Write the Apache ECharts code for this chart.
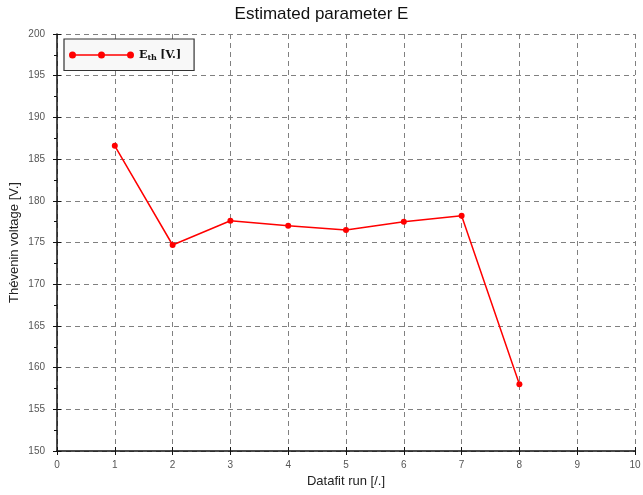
<!DOCTYPE html>
<html>
<head>
<meta charset="utf-8">
<script src="https://cdn.jsdelivr.net/npm/echarts@6/dist/echarts.min.js"></script>
<style>html,body{margin:0;padding:0;background:#fff}#c{width:643px;height:495px}</style>
</head>
<body>
<div id="c"></div>
<script>
var runs = [1, 2, 3, 4, 5, 6, 7, 8];
var voltage = [186.6, 174.7, 177.6, 177.0, 176.5, 177.5, 178.2, 158.0];
var xTicks = [0, 1, 2, 3, 4, 5, 6, 7, 8, 9, 10];
var yTicks = [150, 155, 160, 165, 170, 175, 180, 185, 190, 195, 200];
var seriesName = 'Eth [V.]';

var chart = echarts.init(document.getElementById('c'));
var font = 'Liberation Sans';
var gridDash = {color: '#808080', width: 1, type: [5, 4]};
var baseX = {
  type: 'value', min: xTicks[0], max: xTicks[xTicks.length - 1], interval: 1
};
var baseY = {
  type: 'value', min: yTicks[0], max: yTicks[yTicks.length - 1], interval: 5
};
chart.setOption({
  animation: false,
  backgroundColor: '#ffffff',
  title: {
    text: 'Estimated parameter E', left: 'center', top: 1,
    textStyle: {fontFamily: font, fontSize: 17, fontWeight: 'normal', color: '#111'}
  },
  legend: {
    left: 64, top: 39,
    backgroundColor: '#f8f8f8', borderColor: '#333', borderWidth: 1.2, borderRadius: 0,
    padding: [10, 13, 9, 5],
    itemWidth: 65, itemHeight: 7, itemGap: 5,
    icon: 'path://M3.5,2.7 L61.5,2.7 L61.5,4.3 L3.5,4.3 Z M0,3.5 A3.5,3.5 0 1,1 7,3.5 A3.5,3.5 0 1,1 0,3.5 Z M29,3.5 A3.5,3.5 0 1,1 36,3.5 A3.5,3.5 0 1,1 29,3.5 Z M58,3.5 A3.5,3.5 0 1,1 65,3.5 A3.5,3.5 0 1,1 58,3.5 Z',
    data: [seriesName],
    formatter: function () { return '{b|E}{s|th} {b|[V.]}'; },
    textStyle: {
      rich: {
        b: {fontFamily: 'DejaVu Serif', fontSize: 11, fontWeight: 'bold', color: '#111'},
        s: {fontFamily: 'DejaVu Serif', fontSize: 8, fontWeight: 'bold', color: '#111', padding: [5, 0, 0, 0]}
      }
    }
  },
  grid: {left: 57, right: 8, top: 34, bottom: 44, outerBoundsMode: 'none', containLabel: false},
  xAxis: [
    Object.assign({}, baseX, {
      name: 'Datafit run [/.]', nameLocation: 'middle', nameGap: 21,
      nameTextStyle: {fontFamily: font, fontSize: 13, color: '#222'},
      axisLine: {show: true, lineStyle: {color: '#111', width: 1.5}},
      axisTick: {show: true, length: 4, lineStyle: {color: '#111'}},
      axisLabel: {fontFamily: font, fontSize: 10, color: '#555', margin: 9},
      splitLine: {show: true, lineStyle: gridDash}
    }),
    Object.assign({}, baseX, {
      position: 'bottom',
      axisLine: {show: false},
      axisTick: {show: true, inside: true, length: 4, lineStyle: {color: '#111'}},
      axisLabel: {show: false}, splitLine: {show: false}
    })
  ],
  yAxis: [
    Object.assign({}, baseY, {
      name: 'Thévenin voltage [V.]', nameLocation: 'middle', nameGap: 36, nameMoveOverlap: false,
      nameTextStyle: {fontFamily: font, fontSize: 13, color: '#222'},
      axisLine: {show: true, lineStyle: {color: '#111', width: 1.5}},
      axisTick: {show: true, length: 4, lineStyle: {color: '#111'}},
      minorTick: {show: true, splitNumber: 2, length: 3, lineStyle: {color: '#111'}},
      axisLabel: {fontFamily: font, fontSize: 10, color: '#555', margin: 12},
      splitLine: {show: true, lineStyle: gridDash}
    }),
    Object.assign({}, baseY, {
      position: 'left',
      axisLine: {show: false},
      axisTick: {show: true, inside: true, length: 4, lineStyle: {color: '#111'}},
      axisLabel: {show: false}, splitLine: {show: false}
    })
  ],
  series: [{
    name: seriesName, type: 'line',
    xAxisIndex: 0, yAxisIndex: 0,
    data: runs.map(function (r, i) { return [r, voltage[i]]; }),
    symbol: 'circle', symbolSize: 6,
    itemStyle: {color: '#ff0000'},
    lineStyle: {color: '#ff0000', width: 1.5}
  }]
});
</script>
</body>
</html>
